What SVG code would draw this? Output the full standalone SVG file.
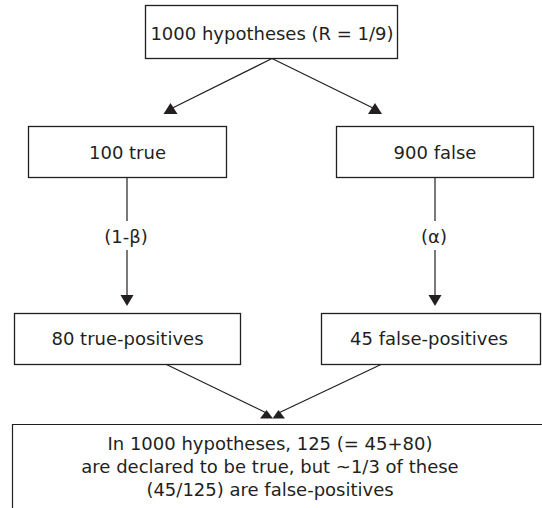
<svg xmlns="http://www.w3.org/2000/svg" width="542" height="508" viewBox="0 0 542 508">
<style>
.box{fill:#ffffff;stroke:#231f20;stroke-width:1.3}
.ln{fill:none;stroke:#231f20;stroke-width:1.2}
.hd{fill:#231f20;stroke:none}
text{font-family:"DejaVu Sans","Liberation Sans",sans-serif;font-size:18px;fill:#231f20;text-anchor:middle}
</style>
<rect width="542" height="508" fill="#ffffff"/>
<g id="connectors">
<line class="ln" x1="272" y1="58.5" x2="170.5" y2="109"/>
<polygon class="hd" points="163.5,114 177.5,114 170.5,103"/>
<line class="ln" x1="272" y1="58.5" x2="375" y2="109"/>
<polygon class="hd" points="368,114 382,114 375,103"/>
<line class="ln" x1="127" y1="177.5" x2="127" y2="221"/>
<line class="ln" x1="127" y1="250" x2="127" y2="297"/>
<polygon class="hd" points="120.5,295 133.5,295 127,306"/>
<text x="126" y="243">(1-β)</text>
<line class="ln" x1="435" y1="177.5" x2="435" y2="221"/>
<line class="ln" x1="435" y1="250" x2="435" y2="297"/>
<polygon class="hd" points="428.5,295 441.5,295 435,306"/>
<text x="434" y="243">(α)</text>
<line class="ln" x1="166.5" y1="364.5" x2="266.5" y2="413"/>
<polygon class="hd" points="260,418.5 273,418.5 266.5,410"/>
<line class="ln" x1="381" y1="364.5" x2="278.5" y2="413"/>
<polygon class="hd" points="272.5,418.5 285,418.5 278.5,410"/>
</g>
<g id="n-top">
<rect class="box" x="145.5" y="5.5" width="252" height="53"/>
<text x="272" y="39.5">1000 hypotheses (R = 1/9)</text>
</g>
<g id="n-true">
<rect class="box" x="28.5" y="126.5" width="198" height="51"/>
<text x="127.5" y="158.5">100 true</text>
</g>
<g id="n-false">
<rect class="box" x="336.5" y="126.5" width="197" height="51"/>
<text x="435" y="158.5">900 false</text>
</g>
<g id="n-tp">
<rect class="box" x="14.5" y="313.5" width="226" height="51"/>
<text x="127.5" y="345">80 true-positives</text>
</g>
<g id="n-fp">
<rect class="box" x="321.5" y="313.5" width="219" height="51"/>
<text x="429" y="345">45 false-positives</text>
</g>
<g id="n-summary">
<path class="ln" d="M12.5,510 V424.5 H545" stroke-width="1.3"/>
<text x="270" y="450">In 1000 hypotheses, 125 (= 45+80)</text>
<text x="270" y="473">are declared to be true, but ~1/3 of these</text>
<text x="270" y="496">(45/125) are false-positives</text>
</g>
</svg>
